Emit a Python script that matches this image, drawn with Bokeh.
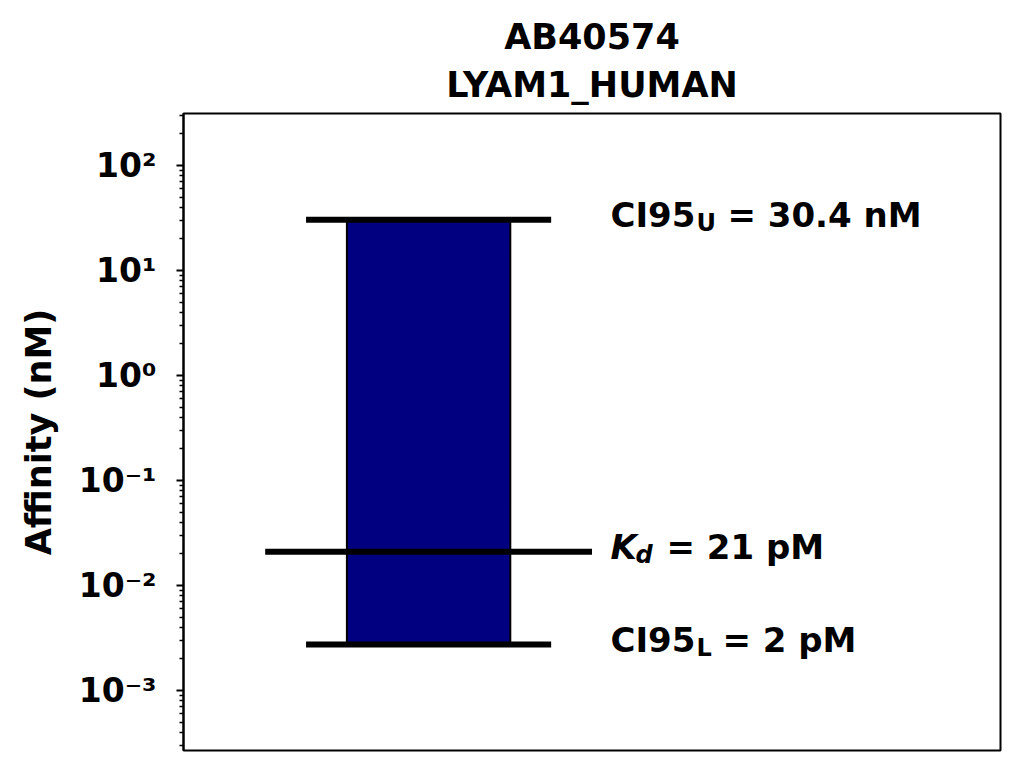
from bokeh.plotting import figure
from bokeh.models import Range1d, FixedTicker, Title, ColumnDataSource
from bokeh.core.properties import value
from bokeh.embed import file_html
from bokeh.resources import INLINE

# ---- data ----
antibody = "AB40574"
target = "LYAM1_HUMAN"
kd_nM = [0.021]
ci_lower_nM = [0.00274]
ci_upper_nM = [30.4]
kd_label = "= 21 pM"
ci_upper_label = "= 30.4 nM"
ci_lower_label = "= 2 pM"
tick_values = [1e-3, 1e-2, 1e-1, 1e0, 1e1, 1e2]
tick_labels = ["10⁻³", "10⁻²", "10⁻¹", "10⁰", "10¹", "10²"]

# ---- layout constants ----
FONT = "DejaVu Sans"
bar_center = 0.3
bar_half = 0.1
ci_half = 0.15
kd_half = 0.2
text_x = 0.5226
FS = 34
SUB = 24
MAIN_DY = -5
SUB_DY = 3

p = figure(width=1008, height=759, y_axis_type="log",
           x_range=Range1d(0, 1), y_range=Range1d(2.685e-4, 312.6),
           output_backend="svg", toolbar_location=None,
           min_border_left=183, min_border_right=8,
           min_border_top=113, min_border_bottom=9)

p.add_layout(Title(text=target, align="center", text_font=FONT,
                   text_font_size="35px", text_font_style="bold",
                   text_color="black", standoff=17), "above")
p.add_layout(Title(text=antibody, align="center", text_font=FONT,
                   text_font_size="35px", text_font_style="bold",
                   text_color="black", standoff=-4), "above")

p.xaxis.visible = False
p.xgrid.visible = False
p.ygrid.visible = False
p.outline_line_color = "black"
p.outline_line_width = 2
p.outline_line_alpha = 1

ya = p.yaxis[0]
ya.ticker = FixedTicker(ticks=tick_values,
                        minor_ticks=[m * 10.0 ** k for k in range(-4, 3) for m in range(2, 10)])
ya.major_label_overrides = dict(zip(tick_values, tick_labels))
ya.major_label_text_font = FONT
ya.major_label_text_font_size = "33px"
ya.major_label_text_font_style = "bold"
ya.major_label_text_color = "black"
ya.major_label_standoff = 20
ya.axis_label = "Affinity (nM)"
ya.axis_label_text_font = FONT
ya.axis_label_text_font_size = "35px"
ya.axis_label_text_font_style = "bold"
ya.axis_label_text_color = "black"
ya.axis_label_standoff = 17
ya.axis_line_width = 2
ya.axis_line_color = "black"
ya.major_tick_in = 0
ya.major_tick_out = 7
ya.major_tick_line_width = 2
ya.major_tick_line_color = "black"
ya.minor_tick_in = 0
ya.minor_tick_out = 4
ya.minor_tick_line_width = 1.5
ya.minor_tick_line_color = "black"

# bar
bar = ColumnDataSource(dict(left=[bar_center - bar_half], right=[bar_center + bar_half],
                            bottom=ci_lower_nM, top=ci_upper_nM))
p.quad(left="left", right="right", bottom="bottom", top="top", source=bar,
       fill_color="#000080", line_color="black", line_width=2)

# CI lines and Kd line
ci_y = ci_upper_nM + ci_lower_nM
p.segment(x0=[bar_center - ci_half] * 2, x1=[bar_center + ci_half] * 2,
          y0=ci_y, y1=ci_y, line_color="black", line_width=6)
p.segment(x0=[bar_center - kd_half], x1=[bar_center + kd_half],
          y0=kd_nM, y1=kd_nM, line_color="black", line_width=6)

# labels
common = dict(text_font=value(FONT), text_baseline="alphabetic", text_align="left",
              text_color="black")
ci_src = ColumnDataSource(dict(x=[text_x, text_x], y=ci_y,
                               main=["CI95", "CI95"], sub=["U", "L"],
                               rest=[ci_upper_label, ci_lower_label],
                               rest_off=[117, 112]))
p.text(x="x", y="y", text="main", source=ci_src, text_font_size=f"{FS}px",
       text_font_style="bold", x_offset=0, y_offset=MAIN_DY, **common)
p.text(x="x", y="y", text="sub", source=ci_src, text_font_size=f"{SUB}px",
       text_font_style="bold", x_offset=86, y_offset=SUB_DY, **common)
p.text(x="x", y="y", text="rest", source=ci_src, text_font_size=f"{FS}px",
       text_font_style="bold", x_offset="rest_off", y_offset=MAIN_DY, **common)

kd_src = ColumnDataSource(dict(x=[text_x], y=kd_nM, main=["K"], sub=["d"], rest=[kd_label]))
p.text(x="x", y="y", text="main", source=kd_src, text_font_size=f"{FS}px",
       text_font_style="bold italic", x_offset=0, y_offset=MAIN_DY, **common)
p.text(x="x", y="y", text="sub", source=kd_src, text_font_size=f"{SUB}px",
       text_font_style="bold italic", x_offset=25, y_offset=SUB_DY, **common)
p.text(x="x", y="y", text="rest", source=kd_src, text_font_size=f"{FS}px",
       text_font_style="bold", x_offset=56, y_offset=MAIN_DY, **common)

open("out.html", "w").write(file_html(p, INLINE))
